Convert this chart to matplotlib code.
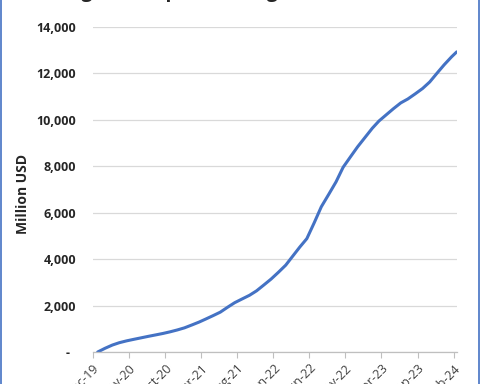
import matplotlib
matplotlib.use("Agg")
import matplotlib.pyplot as plt
from matplotlib.lines import Line2D
import pandas as pd

# ---- data ----
dates = ["2019-12-22", "2020-01-22", "2020-02-22", "2020-03-22", "2020-04-22", "2020-05-22",
         "2020-06-22", "2020-07-22", "2020-08-22", "2020-09-22", "2020-10-22", "2020-11-22",
         "2020-12-22", "2021-01-22", "2021-02-22", "2021-03-22", "2021-04-22", "2021-05-22",
         "2021-06-22", "2021-07-22", "2021-08-22", "2021-09-22", "2021-10-22", "2021-11-22",
         "2021-12-22", "2022-01-22", "2022-02-22", "2022-03-22", "2022-04-22", "2022-05-22",
         "2022-06-22", "2022-07-22", "2022-08-22", "2022-09-22", "2022-10-22", "2022-11-22",
         "2022-12-22", "2023-01-22", "2023-02-22", "2023-03-22", "2023-04-22", "2023-05-22",
         "2023-06-22", "2023-07-22", "2023-08-22", "2023-09-22", "2023-10-22", "2023-11-22",
         "2023-12-22", "2024-01-22", "2024-02-13"]
values = [0, 160, 300, 400, 480, 545,
          610, 673, 735, 798, 868, 950,
          1040, 1163, 1290, 1420, 1567, 1715,
          1928, 2124, 2283, 2440, 2633, 2887,
          3137, 3430, 3738, 4106, 4513, 4880,
          5560, 6250, 6780, 7320, 7950, 8400,
          8830, 9230, 9630, 9940, 10210, 10470,
          10720, 10890, 11110, 11340, 11620, 12000,
          12360, 12700, 12916]
tick_dates = ["2019-12-01", "2020-05-01", "2020-10-01", "2021-03-01", "2021-08-01", "2022-01-01",
              "2022-06-01", "2022-11-01", "2023-04-01", "2023-09-01", "2024-02-01"]
tick_labels = ["Dec-19", "May-20", "Oct-20", "Mar-21", "Aug-21", "Jan-22",
               "Jun-22", "Nov-22", "Apr-23", "Sep-23", "Feb-24"]
y_ticks = [0, 2000, 4000, 6000, 8000, 10000, 12000, 14000]
y_tick_labels = ["-  ", "2,000", "4,000", "6,000", "8,000", "10,000", "12,000", "14,000"]
title = "Budget Aid Spend Rising Since Late 2019"
y_label = "Million USD"

x = pd.to_datetime(dates)
xt = pd.to_datetime(tick_dates)

plt.rcParams['font.family'] = ['Open Sans', 'DejaVu Sans']

fig = plt.figure(figsize=(4.8, 3.84), dpi=100)
ax = fig.add_axes([0.1931, 0.0833, 0.7584, 0.8472])

ax.plot(x, values, color="#4472C4", lw=2.2, solid_capstyle="round", clip_on=True)

ax.set_xlim(pd.Timestamp("2019-12-01"), pd.Timestamp("2024-02-13"))
ax.set_ylim(0, 14000)

ax.set_yticks(y_ticks)
ax.set_yticklabels(y_tick_labels, fontsize=9, fontweight="bold", color="#262626")
ax.tick_params(axis="y", length=0, pad=12)

ax.set_xticks(xt)
ax.set_xticklabels(tick_labels, fontsize=9, color="#404040", rotation=45,
                   ha="right", rotation_mode="anchor")
ax.tick_params(axis="x", length=4, width=0.8, color="#BFBFBF", pad=3)

ax.grid(axis="y", color="#D9D9D9", lw=0.9)
ax.set_axisbelow(True)
for s in ["top", "right", "left"]:
    ax.spines[s].set_visible(False)
ax.spines["bottom"].set_color("#BFBFBF")
ax.spines["bottom"].set_linewidth(0.9)

fig.text(0.047, 0.495, y_label, rotation=90, fontsize=10, fontweight="bold",
         color="#262626", ha="center", va="center")

fig.text(0.09, 1.008, title, fontsize=14, fontweight="bold", color="#262626",
         ha="left", va="baseline")

# outer chart border (left and right edges visible)
fig.add_artist(Line2D([0.5 / 480, 0.5 / 480], [0, 1], transform=fig.transFigure,
                      color="#4472C4", lw=1.2))
fig.add_artist(Line2D([478.5 / 480, 478.5 / 480], [0, 1], transform=fig.transFigure,
                      color="#4472C4", lw=1.2))

fig.savefig("out.png", dpi=100)
